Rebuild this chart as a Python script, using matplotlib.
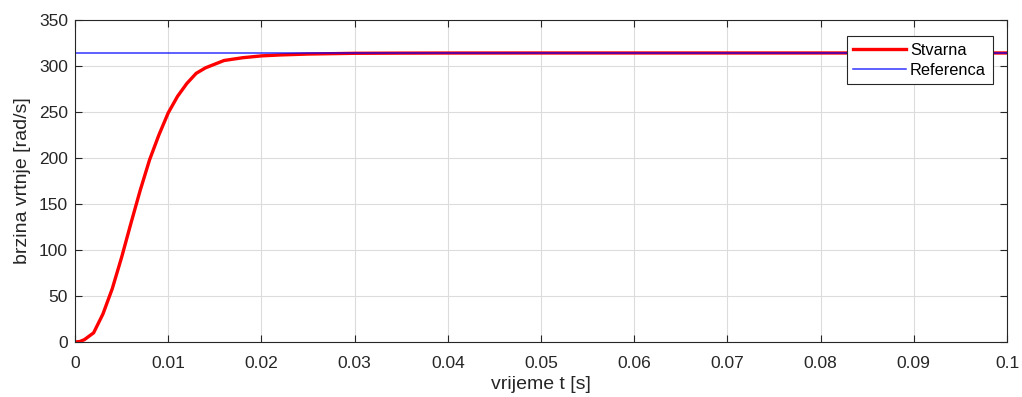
import matplotlib
matplotlib.use("Agg")
import matplotlib.pyplot as plt

plt.rcParams['font.family'] = ['Liberation Sans', 'DejaVu Sans']

# Data
t_stvarna = [0, 0.0005, 0.001, 0.002, 0.003, 0.004, 0.005, 0.006, 0.007, 0.008, 0.009, 0.010,
             0.011, 0.012, 0.013, 0.014, 0.016, 0.018, 0.020, 0.022, 0.025, 0.030, 0.035, 0.040,
             0.050, 0.060, 0.070, 0.080, 0.090, 0.100]
v_stvarna = [0, 0.5, 2.5, 10, 30.5, 58, 92, 129, 165, 198, 225, 249,
             267, 281, 292, 298, 306, 309, 311, 312, 313, 313.8, 314.0, 314.1,
             314.15, 314.16, 314.16, 314.16, 314.16, 314.16]
t_ref = [0, 0.1]
v_ref = [314.16, 314.16]

xticks = [0, 0.01, 0.02, 0.03, 0.04, 0.05, 0.06, 0.07, 0.08, 0.09, 0.1]
xticklabels = ['0', '0.01', '0.02', '0.03', '0.04', '0.05', '0.06', '0.07', '0.08', '0.09', '0.1']
yticks = [0, 50, 100, 150, 200, 250, 300, 350]

fig = plt.figure(figsize=(10.22, 3.97), dpi=100)
ax = fig.add_axes([75/1022, 55/397, 932/1022, 322/397])

ax.plot(t_stvarna, v_stvarna, color='#ff0000', lw=2.4, label='Stvarna')
ax.plot(t_ref, v_ref, color='#0000ff', lw=1.1, alpha=0.8, label='Referenca')

ax.set_xlim(0, 0.1)
ax.set_ylim(0, 350)
ax.set_xticks(xticks)
ax.set_xticklabels(xticklabels)
ax.set_yticks(yticks)
ax.grid(True, color='#dcdcdc', lw=0.8)
ax.set_axisbelow(True)
ax.tick_params(direction='in', length=5, width=0.8, colors='#262626', labelsize=12.5,
               top=True, right=True)
ax.tick_params(axis='x', pad=10)
ax.tick_params(axis='y', pad=5)
for s in ax.spines.values():
    s.set_color('#262626')
    s.set_linewidth(0.8)

ax.set_xlabel('vrijeme t [s]', fontsize=14, color='#262626', labelpad=4)
ax.set_ylabel('brzina vrtnje [rad/s]', fontsize=14, color='#262626', labelpad=6)

leg = ax.legend(loc='upper right', bbox_to_anchor=(0.9845, 0.95), fontsize=11.8, frameon=True,
                fancybox=False, edgecolor='#262626', framealpha=1, borderpad=0.4,
                handlelength=3.2, handletextpad=0.28, labelspacing=0.3, borderaxespad=0)
leg.get_frame().set_linewidth(0.8)

fig.savefig('out.png', dpi=100)
